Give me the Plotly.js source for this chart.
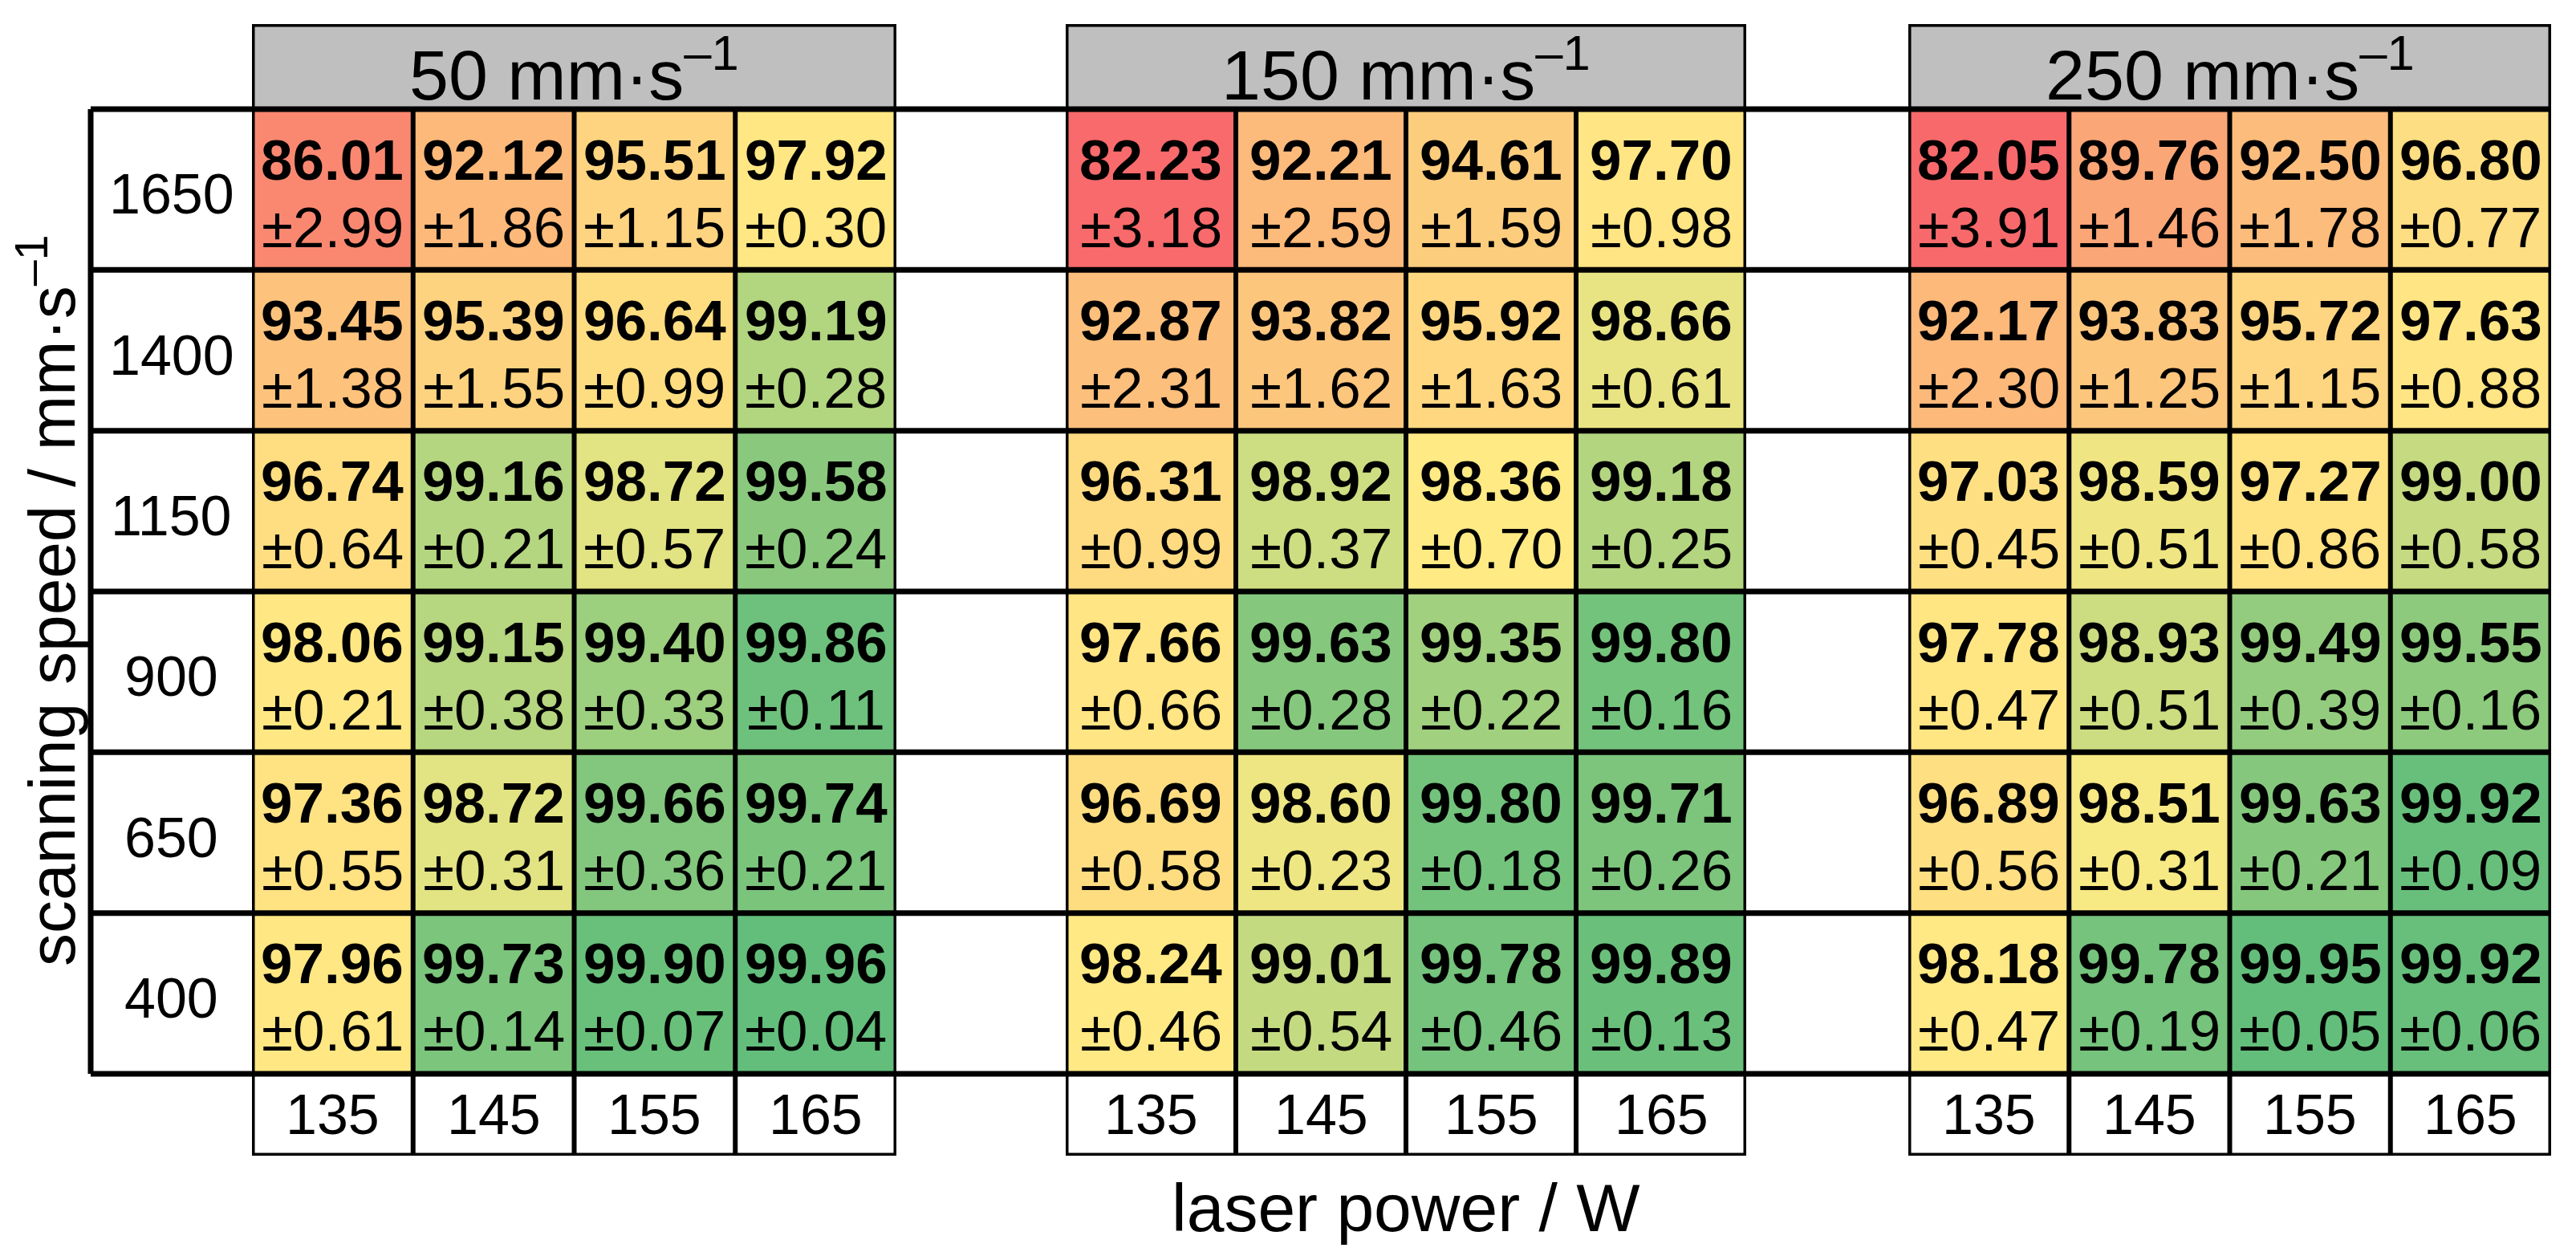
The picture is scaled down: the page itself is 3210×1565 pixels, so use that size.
<!DOCTYPE html>
<html>
<head>
<meta charset="utf-8">
<script src="https://cdn.plot.ly/plotly-3.0.1.min.js"></script>
<style>
  body { margin: 0; background: #fff; }
  #graph { width: 3210px; height: 1565px; }
</style>
</head>
<body>
<div id="graph"></div>
<script>
/* datos de la tabla */
const speeds = ['1650', '1400', '1150', '900', '650', '400'];
const powers = ['135', '145', '155', '165'];
const panelSpeeds = [50, 150, 250];

const density50 = [
    [86.01, 92.12, 95.51, 97.92],
    [93.45, 95.39, 96.64, 99.19],
    [96.74, 99.16, 98.72, 99.58],
    [98.06, 99.15, 99.40, 99.86],
    [97.36, 98.72, 99.66, 99.74],
    [97.96, 99.73, 99.90, 99.96]
];
const std50 = [
    [2.99, 1.86, 1.15, 0.30],
    [1.38, 1.55, 0.99, 0.28],
    [0.64, 0.21, 0.57, 0.24],
    [0.21, 0.38, 0.33, 0.11],
    [0.55, 0.31, 0.36, 0.21],
    [0.61, 0.14, 0.07, 0.04]
];
const density150 = [
    [82.23, 92.21, 94.61, 97.70],
    [92.87, 93.82, 95.92, 98.66],
    [96.31, 98.92, 98.36, 99.18],
    [97.66, 99.63, 99.35, 99.80],
    [96.69, 98.60, 99.80, 99.71],
    [98.24, 99.01, 99.78, 99.89]
];
const std150 = [
    [3.18, 2.59, 1.59, 0.98],
    [2.31, 1.62, 1.63, 0.61],
    [0.99, 0.37, 0.70, 0.25],
    [0.66, 0.28, 0.22, 0.16],
    [0.58, 0.23, 0.18, 0.26],
    [0.46, 0.54, 0.46, 0.13]
];
const density250 = [
    [82.05, 89.76, 92.50, 96.80],
    [92.17, 93.83, 95.72, 97.63],
    [97.03, 98.59, 97.27, 99.00],
    [97.78, 98.93, 99.49, 99.55],
    [96.89, 98.51, 99.63, 99.92],
    [98.18, 99.78, 99.95, 99.92]
];
const std250 = [
    [3.91, 1.46, 1.78, 0.77],
    [2.30, 1.25, 1.15, 0.88],
    [0.45, 0.51, 0.86, 0.58],
    [0.47, 0.51, 0.39, 0.16],
    [0.56, 0.31, 0.21, 0.09],
    [0.47, 0.19, 0.05, 0.06]
];

const densities = [density50, density150, density250];
const stds = [std50, std150, std250];

/* escala de color tipo excel: min rojo, mediana amarillo, max verde */
const allValues = [];
for (let tabla of densities){
    for (let fila of tabla){
        allValues.push(...fila);
    }
}
allValues.sort((a, b) => a - b);
const n = allValues.length;
const zmin = allValues[0];
const zmax = allValues[n - 1];
const median = n % 2 ? allValues[(n - 1) / 2] : (allValues[n / 2 - 1] + allValues[n / 2]) / 2;
const mid = (median - zmin) / (zmax - zmin);
const colorscale = [[0, '#F8696B'], [mid, '#FFEB84'], [1, '#63BE7B']];

/* geometria en pixeles */
const W = 3210, H = 1565;
const panelPx = [[314, 1117], [1328, 2176], [2378, 3179]];
const labelLeft = 113;
const headTopPx = 30, dataTopPx = 136, dataBotPx = 1338, powBotPx = 1440;
const rowPx = (dataBotPx - dataTopPx) / speeds.length;
const headTop = -0.5 - (dataTopPx - headTopPx) / rowPx;
const powBot = speeds.length - 0.5 + (powBotPx - dataBotPx) / rowPx;

const font = 'Arial, "Liberation Sans", sans-serif';
const black = '#000000';

// texto centrado, sin flecha
function label(xref, yref, x, y, text, size, extra){
    return Object.assign({
        xref: xref, yref: yref, x: x, y: y,
        text: text,
        showarrow: false,
        xanchor: 'center',
        yanchor: 'middle',
        font: {size: size, family: font, color: black}
    }, extra || {});
}

function showGraph(){

    const graph = document.getElementById('graph');

    const traces = [];
    const shapes = [];
    const annotations = [];

    const layout = {
        width: W,
        height: H,
        margin: {l: 0, r: 0, t: 0, b: 0},
        paper_bgcolor: '#ffffff',
        plot_bgcolor: '#ffffff',
        showlegend: false,
        font: {family: font, color: black},
        yaxis: {
            domain: [1 - powBotPx / H, 1 - headTopPx / H],
            type: 'category',
            range: [powBot, headTop],
            visible: false,
            fixedrange: true
        }
    };

    densities.forEach((tabla, k) => {
        const xa = k === 0 ? 'x' : 'x' + (k + 1);
        const axisKey = k === 0 ? 'xaxis' : 'xaxis' + (k + 1);

        layout[axisKey] = {
            domain: [panelPx[k][0] / W, panelPx[k][1] / W],
            type: 'category',
            range: [-0.5, powers.length - 0.5],
            visible: false,
            fixedrange: true
        };

        traces.push({
            type: 'heatmap',
            x: powers,
            y: speeds,
            z: tabla,
            xaxis: xa,
            yaxis: 'y',
            zmin: zmin,
            zmax: zmax,
            colorscale: colorscale,
            showscale: false,
            hoverinfo: 'skip'
        });

        // cabecera gris
        shapes.push({
            type: 'rect', xref: xa, yref: 'y',
            x0: -0.5, x1: powers.length - 0.5, y0: headTop, y1: -0.5,
            fillcolor: '#BFBFBF', line: {width: 0}
        });
        annotations.push(label(xa, 'y', (powers.length - 1) / 2, (headTop - 0.5) / 2 + 0.02,
            panelSpeeds[k] + ' mm·s<sup>–1</sup>', 88));

        // lineas de columnas
        for (let c = 1; c < powers.length; c++){
            shapes.push({
                type: 'line', xref: xa, yref: 'y',
                x0: c - 0.5, x1: c - 0.5, y0: -0.5, y1: powBot,
                line: {color: black, width: 6}
            });
        }
        // marco del panel
        shapes.push({
            type: 'rect', xref: xa, yref: 'y',
            x0: -0.5, x1: powers.length - 0.5, y0: headTop, y1: powBot,
            line: {color: black, width: 7}
        });

        // valores de cada celda
        tabla.forEach((fila, i) => {
            fila.forEach((v, j) => {
                annotations.push(label(xa, 'y', j, i - 0.185, '<b>' + v.toFixed(2) + '</b>', 71));
                annotations.push(label(xa, 'y', j, i + 0.235, '±' + stds[k][i][j].toFixed(2), 71));
            });
        });

        // potencias abajo
        powers.forEach((p, j) => {
            annotations.push(label(xa, 'y', j, (speeds.length - 0.5 + powBot) / 2, p, 70));
        });
    });

    // lineas horizontales de filas (cruzan todo el ancho)
    for (let r = 0; r <= speeds.length; r++){
        shapes.push({
            type: 'line', xref: 'paper', yref: 'y',
            x0: labelLeft / W, x1: panelPx[2][1] / W, y0: r - 0.5, y1: r - 0.5,
            line: {color: black, width: 7}
        });
    }
    // borde izquierdo de la columna de velocidades
    shapes.push({
        type: 'line', xref: 'paper', yref: 'y',
        x0: labelLeft / W, x1: labelLeft / W, y0: -0.5, y1: speeds.length - 0.5,
        line: {color: black, width: 7}
    });

    speeds.forEach((s, i) => {
        annotations.push(label('paper', 'y', (labelLeft + panelPx[0][0]) / 2 / W, i + 0.03, s, 70));
    });

    // titulos de ejes
    annotations.push(label('x2', 'paper', (powers.length - 1) / 2, 1 - 1505 / H,
        'laser power / W', 84));
    annotations.push(label('paper', 'paper', 58 / W, 1 - 748 / H,
        'scanning speed / mm·s<sup>–1</sup>', 82, {textangle: -90}));

    layout.shapes = shapes;
    layout.annotations = annotations;

    const config = {
        responsive: false,
        displayModeBar: false,
        staticPlot: true
    };

    Plotly.newPlot(graph, traces, layout, config);
}

showGraph();
</script>
</body>
</html>
